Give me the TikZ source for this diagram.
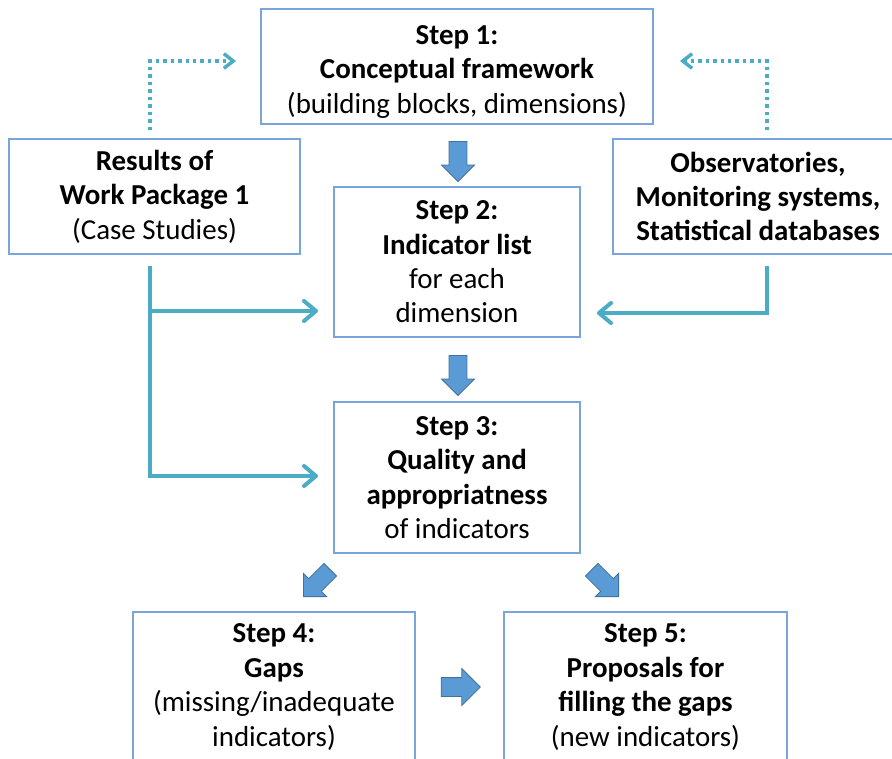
\documentclass[tikz,border=0pt]{standalone}
\usepackage{fontspec}
\setmainfont{Carlito}
\usetikzlibrary{arrows.meta,shapes.arrows}
\definecolor{boxline}{RGB}{120,166,218}
\definecolor{connc}{RGB}{75,172,198}
\definecolor{blk}{RGB}{91,155,213}
\definecolor{blkline}{RGB}{65,113,156}
\begin{document}
\begin{tikzpicture}[x=0.75pt,y=-0.75pt,
  box/.style={draw=boxline,line width=1pt,inner sep=0pt,align=center,
    font=\fontsize{21.7}{25.8}\selectfont},
  connline/.style={draw=connc,line width=3pt,
    -{Straight Barb[length=9pt,width=15pt,round]}},
  dotline/.style={draw=connc,line width=2.6pt,dash pattern=on 2.6pt off 3pt,
    -{Straight Barb[length=7pt,width=11pt]}},
  blockarrow/.style={single arrow,draw=blkline,fill=blk,line width=0.6pt,
    inner xsep=0pt,inner ysep=6.4pt,single arrow head extend=5.6pt,
    minimum height=30pt,single arrow tip angle=90}]
\useasboundingbox (0,0) rectangle (892,758);

% boxes
\node[box,minimum width=294pt,minimum height=86.25pt] (s1) at (457,66.5)
  {\rule{0pt}{22pt}\textbf{Step 1:}\\\textbf{Conceptual framework}\\(building blocks, dimensions)};
\node[box,minimum width=218.25pt,minimum height=86.25pt] (wp) at (154.5,196.5)
  {\textbf{Results of}\\\textbf{Work Package 1}\\(Case Studies)};
\node[box,minimum width=217.5pt,minimum height=86.25pt] (obs) at (758,196.5)
  {\textbf{Observatories,}\\\textbf{Monitoring systems,}\\\textbf{Statistical databases}};
\node[box,minimum width=184.5pt,minimum height=112.5pt] (s2) at (457,262)
  {\textbf{Step 2:}\\\textbf{Indicator list}\\for each\\dimension};
\node[box,minimum width=184.5pt,minimum height=113.25pt] (s3) at (457,477.5)
  {\textbf{Step 3:}\\\textbf{Quality and}\\\textbf{appropriatness}\\of indicators};
\node[box,minimum width=211.5pt,minimum height=112.5pt] (s4) at (274,687)
  {\textbf{Step 4:}\\\textbf{Gaps}\\(missing/inadequate\\indicators)};
\node[box,minimum width=212.25pt,minimum height=112.5pt] (s5) at (645.5,687)
  {\textbf{Step 5:}\\\textbf{Proposals for}\\\textbf{filling the gaps}\\(new indicators)};

% block arrows
\node[blockarrow,rotate=-90] (a12) at (458,157) {};
\node[blockarrow,rotate=-90] (a23) at (458,371) {};
\node[blockarrow,rotate=-135,minimum height=28.5pt] (a34) at (320,580) {};
\node[blockarrow,rotate=-45,minimum height=28.5pt] (a35) at (602,580) {};
\node[blockarrow,inner ysep=6.75pt,single arrow head extend=6.75pt,minimum height=29.25pt] (a45) at (456,687) {};

% connector coordinates
\coordinate (l1) at (150,266);
\coordinate (l2) at (318,311);
\coordinate (l3) at (318,476);
\coordinate (r1) at (767,266);
\coordinate (r2) at (597,313);
\coordinate (d1) at (150,130);
\coordinate (d2) at (236,61);
\coordinate (e1) at (767,130);
\coordinate (e2) at (680,61);

% solid connectors
\draw[connline] (l1) |- (l3);
\draw[connline] (l1 |- l2) -- (l2);
\draw[connline] (r1) |- (r2);

% dotted connectors
\draw[dotline] (d1) |- (d2);
\draw[dotline] (e1) |- (e2);
\end{tikzpicture}
\end{document}
